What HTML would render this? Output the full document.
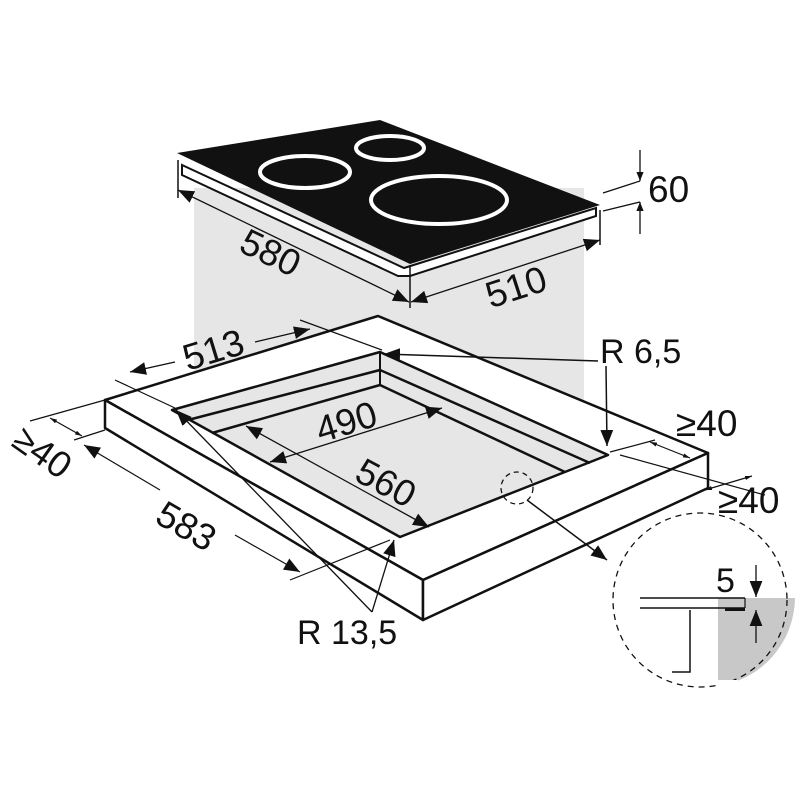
<!DOCTYPE html>
<html><head><meta charset="utf-8"><style>
html,body{margin:0;padding:0;background:#fff;width:800px;height:800px;overflow:hidden}
text{font-family:"Liberation Sans",sans-serif;fill:#111}
</style></head><body>
<svg width="800" height="800" viewBox="0 0 800 800" xmlns="http://www.w3.org/2000/svg">
<defs>
<marker id="a" viewBox="0 0 10 10" refX="10" refY="5" markerWidth="9" markerHeight="9" orient="auto-start-reverse" markerUnits="userSpaceOnUse"><path d="M0,1 L10,5 L0,9 Z" fill="#111"/></marker>
<marker id="s" viewBox="0 0 10 10" refX="10" refY="5" markerWidth="7" markerHeight="7" orient="auto-start-reverse" markerUnits="userSpaceOnUse"><path d="M0,2 L10,5 L0,8 Z" fill="#111"/></marker>
<marker id="b" viewBox="0 0 10 10" refX="10" refY="5" markerWidth="16" markerHeight="16" orient="auto-start-reverse" markerUnits="userSpaceOnUse"><path d="M0,1 L10,5 L0,9 Z" fill="#111"/></marker>
</defs>
<rect x="194" y="188" width="390" height="290" fill="#e6e6e6"/>
<polygon points="378,316 708,453 423,580 105,400" fill="#fff" stroke="#111" stroke-width="2.5" stroke-linejoin="round"/>
<polygon points="105,400 423,580 423,620 105,428" fill="#fff" stroke="#111" stroke-width="2.5" stroke-linejoin="round"/>
<polygon points="423,580 708,453 708,488 423,620" fill="#fff" stroke="#111" stroke-width="2.5" stroke-linejoin="round"/>
<polygon points="380,352 608,455 400,537 172,410" fill="#e6e6e6" stroke="#111" stroke-width="2.5" stroke-linejoin="round"/>
<polyline points="188,420 380,370 590,463" fill="none" stroke="#111" stroke-width="2.5"/>
<polyline points="212,433 380,385 565,472" fill="none" stroke="#111" stroke-width="2.5"/>
<line x1="380" y1="352" x2="380" y2="385" stroke="#111" stroke-width="2"/>
<polygon points="182,165 404,268 596,208 596,216 410,276 398,276 182,175" fill="#fff" stroke="#111" stroke-width="2"/>
<polygon points="177,153 380,120 600,205 410,264" fill="#111"/>
<ellipse cx="390" cy="148" rx="34" ry="12" fill="none" stroke="#fff" stroke-width="4"/>
<ellipse cx="305" cy="172" rx="45" ry="16" fill="none" stroke="#fff" stroke-width="4"/>
<ellipse cx="439" cy="200" rx="68" ry="24" fill="none" stroke="#fff" stroke-width="4"/>
<line x1="178" y1="160" x2="178" y2="198" stroke="#111" stroke-width="1.5"/>
<line x1="410" y1="265" x2="410" y2="308" stroke="#111" stroke-width="1.5"/>
<line x1="600" y1="210" x2="600" y2="245" stroke="#111" stroke-width="1.5"/>
<line x1="178" y1="190" x2="409" y2="302" stroke="#111" stroke-width="1.3" marker-start="url(#b)" marker-end="url(#b)"/>
<line x1="411" y1="302" x2="600" y2="240" stroke="#111" stroke-width="1.3" marker-start="url(#b)" marker-end="url(#b)"/>
<text x="265" y="264" font-size="37" transform="rotate(26 265 264)" text-anchor="middle">580</text>
<text x="520" y="299" font-size="37" transform="rotate(-18 520 299)" text-anchor="middle">510</text>
<line x1="603" y1="193" x2="640" y2="181" stroke="#111" stroke-width="1.3"/>
<line x1="603" y1="211" x2="640" y2="202" stroke="#111" stroke-width="1.3"/>
<line x1="640" y1="150" x2="640" y2="181" stroke="#111" stroke-width="1.3" marker-end="url(#a)"/>
<line x1="640" y1="234" x2="640" y2="202" stroke="#111" stroke-width="1.3" marker-end="url(#a)"/>
<text x="648" y="202" font-size="37">60</text>
<line x1="300" y1="320" x2="382" y2="350" stroke="#111" stroke-width="1.2"/>
<line x1="115" y1="380" x2="175" y2="408" stroke="#111" stroke-width="1.2"/>
<line x1="130" y1="372" x2="175" y2="362" stroke="#111" stroke-width="1.3" marker-start="url(#b)"/>
<line x1="255" y1="342" x2="310" y2="329" stroke="#111" stroke-width="1.3" marker-end="url(#b)"/>
<text x="217" y="362" font-size="37" transform="rotate(-17 217 362)" text-anchor="middle">513</text>
<line x1="598" y1="361" x2="384" y2="354" stroke="#111" stroke-width="1.5" marker-end="url(#b)"/>
<line x1="606" y1="366" x2="607" y2="446" stroke="#111" stroke-width="1.5" marker-end="url(#b)"/>
<text x="600" y="363" font-size="34">R 6,5</text>
<line x1="610" y1="452" x2="655" y2="440" stroke="#111" stroke-width="1.2"/>
<line x1="650" y1="442" x2="690" y2="458" stroke="#111" stroke-width="1.2" marker-start="url(#s)" marker-end="url(#s)"/>
<text x="676" y="436" font-size="37">≥40</text>
<line x1="620" y1="455" x2="765" y2="495" stroke="#111" stroke-width="1.2"/>
<line x1="705" y1="490" x2="752" y2="476" stroke="#111" stroke-width="1.2" marker-start="url(#s)" marker-end="url(#s)"/>
<text x="718" y="513" font-size="37">≥40</text>
<line x1="30" y1="421" x2="105" y2="400" stroke="#111" stroke-width="1.2"/>
<line x1="74" y1="440" x2="105" y2="430" stroke="#111" stroke-width="1.2"/>
<line x1="50" y1="418" x2="82" y2="436" stroke="#111" stroke-width="1.2" marker-start="url(#s)" marker-end="url(#s)"/>
<text x="10" y="445" font-size="37" transform="rotate(35 10 445)">≥40</text>
<line x1="84" y1="445" x2="160" y2="490" stroke="#111" stroke-width="1.2" marker-start="url(#b)"/>
<line x1="235" y1="535" x2="300" y2="572" stroke="#111" stroke-width="1.2" marker-end="url(#b)"/>
<line x1="290" y1="580" x2="390" y2="540" stroke="#111" stroke-width="1.2"/>
<text x="180" y="537" font-size="37" transform="rotate(30 180 537)" text-anchor="middle">583</text>
<line x1="270" y1="462" x2="442" y2="408" stroke="#111" stroke-width="1.3" marker-start="url(#b)" marker-end="url(#b)"/>
<text x="350" y="434" font-size="37" transform="rotate(-17 350 434)" text-anchor="middle">490</text>
<line x1="246" y1="426" x2="429" y2="527" stroke="#111" stroke-width="1.3" marker-start="url(#b)" marker-end="url(#b)"/>
<text x="380" y="494" font-size="37" transform="rotate(28 380 494)" text-anchor="middle">560</text>
<line x1="372" y1="612" x2="176" y2="410" stroke="#111" stroke-width="1.3" marker-end="url(#b)"/>
<line x1="372" y1="612" x2="394" y2="540" stroke="#111" stroke-width="1.3" marker-end="url(#b)"/>
<text x="297" y="644" font-size="34">R 13,5</text>
<circle cx="517" cy="488" r="16" fill="none" stroke="#111" stroke-width="1.3" stroke-dasharray="5,4"/>
<line x1="527" y1="500" x2="607" y2="560" stroke="#111" stroke-width="1.5" marker-end="url(#b)"/>
<path d="M718,598 L795,598 A90,90 0 0 1 718,686 Z" fill="#c8c8c8"/>
<circle cx="700" cy="600" r="87" fill="none" stroke="#111" stroke-width="1.3" stroke-dasharray="6,5"/>
<rect x="718" y="680" width="20" height="20" fill="#fff"/>
<line x1="640" y1="598" x2="745" y2="598" stroke="#111" stroke-width="1.5"/>
<line x1="640" y1="608" x2="745" y2="608" stroke="#111" stroke-width="1.5"/>
<line x1="745" y1="598" x2="745" y2="608" stroke="#111" stroke-width="1.2"/>
<rect x="725" y="608" width="20" height="3" fill="#111"/>
<polyline points="690,610 690,672 672,672" fill="none" stroke="#111" stroke-width="1.5"/>
<line x1="756" y1="565" x2="756" y2="597" stroke="#111" stroke-width="1.3" marker-end="url(#b)"/>
<line x1="756" y1="643" x2="756" y2="610" stroke="#111" stroke-width="1.3" marker-end="url(#b)"/>
<text x="716" y="592" font-size="34">5</text>
</svg>
</body></html>
